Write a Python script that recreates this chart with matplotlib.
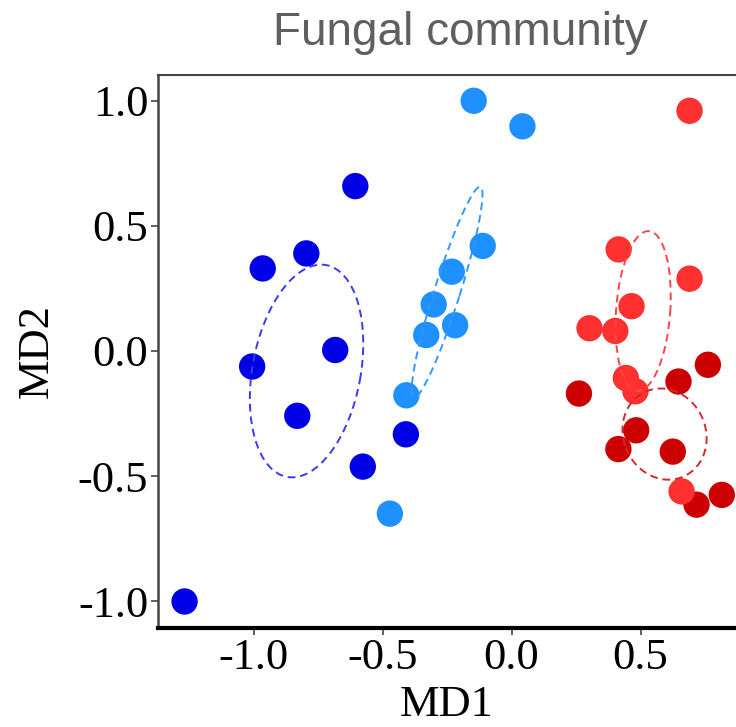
import matplotlib
matplotlib.use('Agg')
import matplotlib.pyplot as plt
from matplotlib.patches import Ellipse

# 데이터: MD1 / MD2 좌표
dark_blue_x = [-0.965, -0.796, -0.606, -0.684, -1.006, -0.831, -0.577, -0.410, -1.268]
dark_blue_y = [0.330, 0.390, 0.659, 0.004, -0.062, -0.259, -0.462, -0.333, -1.001]

light_blue_x = [-0.147, 0.042, -0.112, -0.232, -0.302, -0.219, -0.331, -0.408, -0.472]
light_blue_y = [1.000, 0.898, 0.420, 0.317, 0.186, 0.103, 0.064, -0.177, -0.650]

light_red_x = [0.690, 0.415, 0.690, 0.465, 0.302, 0.402, 0.443, 0.480, 0.659]
light_red_y = [0.960, 0.406, 0.289, 0.179, 0.091, 0.080, -0.108, -0.161, -0.561]

dark_red_x = [0.761, 0.647, 0.261, 0.483, 0.414, 0.625, 0.815, 0.717]
dark_red_y = [-0.055, -0.122, -0.170, -0.317, -0.392, -0.402, -0.575, -0.614]

# 신뢰 타원: 중심 x, 중심 y, 폭, 높이, 각도
ell_dark_blue = (-0.795, -0.08, 0.86, 0.42, 80)
ell_light_blue = (-0.25, 0.235, 0.88, 0.10, 73)
ell_light_red = (0.51, 0.16, 0.64, 0.21, 86)
ell_dark_red = (0.593, -0.332, 0.37, 0.32, -70)

fig = plt.figure(figsize=(7.36, 7.27), dpi=100)
ax = fig.add_axes([158 / 736, 99 / 727, (736 - 158) / 736, (628 - 75) / 727])

ms = 360
ax.scatter(dark_blue_x, dark_blue_y, s=ms, color='#0000E6', edgecolors='none', zorder=3)
ax.scatter(light_blue_x, light_blue_y, s=ms, color='#1E90FF', edgecolors='none', zorder=3)
ax.scatter(dark_red_x, dark_red_y, s=ms, color='#CC0000', edgecolors='none', zorder=3)
ax.scatter(light_red_x, light_red_y, s=ms, color='#FF3030', edgecolors='none', zorder=4)

for (cx, cy, w, h, ang), col in [(ell_dark_blue, '#3A3AF0'), (ell_light_blue, '#3399FF'),
                                 (ell_light_red, '#FF4545'), (ell_dark_red, '#D02a2a')]:
    ax.add_patch(Ellipse((cx, cy), w, h, angle=ang, fill=False, edgecolor=col,
                         linestyle=(0, (4, 2.5)), linewidth=1.4, zorder=5))

ax.set_xlim(-1.371, 0.870)
ax.set_ylim(-1.107, 1.103)
ax.set_xticks([-1.0, -0.5, 0.0, 0.5])
ax.set_yticks([-1.0, -0.5, 0.0, 0.5, 1.0])
ax.set_xticklabels(['-1.0', '-0.5', '0.0', '0.5'])
ax.set_yticklabels(['-1.0', '-0.5', '0.0', '0.5', '1.0'])

serif = 'Liberation Serif'
for lab in ax.get_xticklabels() + ax.get_yticklabels():
    lab.set_fontfamily(serif)
    lab.set_fontsize(32)
    lab.set_color('black')
ax.tick_params(length=5, width=1.2, color='#444444', pad=2)

ax.spines['right'].set_visible(False)
ax.spines['top'].set_color('#444444')
ax.spines['top'].set_linewidth(1.5)
ax.spines['left'].set_color('#444444')
ax.spines['left'].set_linewidth(1.8)
ax.spines['bottom'].set_color('black')
ax.spines['bottom'].set_linewidth(3)

ax.set_xlabel('MD1', fontfamily=serif, fontsize=32, labelpad=5)
ax.set_ylabel('MD2', fontfamily=serif, fontsize=32, labelpad=15)

fig.text(460 / 736, 1 - 33 / 727, 'Fungal community', ha='center', va='center',
         fontfamily='Liberation Sans', fontsize=33, color='#5f5f5f')

fig.savefig('out.png', dpi=100, facecolor='white')
